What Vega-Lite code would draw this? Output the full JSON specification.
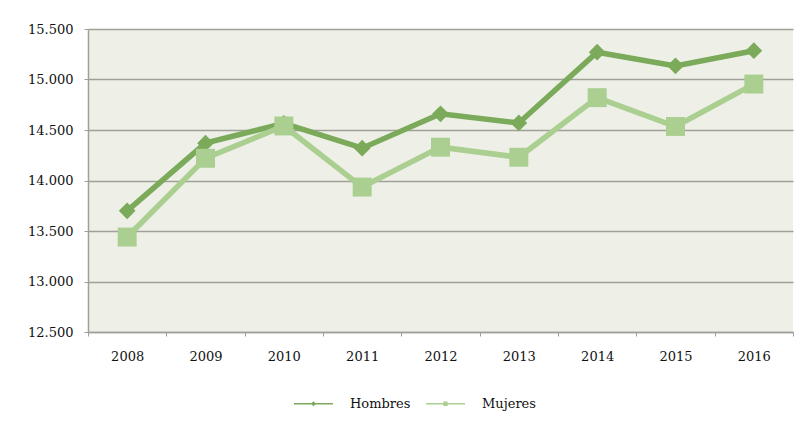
{
  "$schema": "https://vega.github.io/schema/vega-lite/v6.json",
  "width": 705,
  "height": 303,
  "autosize": {"type": "none"},
  "padding": {"left": 88, "top": 29, "right": 10, "bottom": 91},
  "background": "#ffffff",
  "data": {
    "values": [
      {"anio": "2008", "serie": "Hombres", "valor": 13700},
      {"anio": "2009", "serie": "Hombres", "valor": 14370},
      {"anio": "2010", "serie": "Hombres", "valor": 14565},
      {"anio": "2011", "serie": "Hombres", "valor": 14320},
      {"anio": "2012", "serie": "Hombres", "valor": 14660},
      {"anio": "2013", "serie": "Hombres", "valor": 14570},
      {"anio": "2014", "serie": "Hombres", "valor": 15270},
      {"anio": "2015", "serie": "Hombres", "valor": 15135},
      {"anio": "2016", "serie": "Hombres", "valor": 15285},
      {"anio": "2008", "serie": "Mujeres", "valor": 13440},
      {"anio": "2009", "serie": "Mujeres", "valor": 14220},
      {"anio": "2010", "serie": "Mujeres", "valor": 14540},
      {"anio": "2011", "serie": "Mujeres", "valor": 13935},
      {"anio": "2012", "serie": "Mujeres", "valor": 14330},
      {"anio": "2013", "serie": "Mujeres", "valor": 14230},
      {"anio": "2014", "serie": "Mujeres", "valor": 14820},
      {"anio": "2015", "serie": "Mujeres", "valor": 14535},
      {"anio": "2016", "serie": "Mujeres", "valor": 14955}
    ]
  },
  "encoding": {
    "x": {
      "field": "anio",
      "type": "ordinal",
      "scale": {"paddingInner": 0, "paddingOuter": 0},
      "axis": {
        "title": null,
        "labelAngle": 0,
        "tickBand": "extent",
        "tickSize": 4,
        "tickColor": "#a0a09a",
        "domainColor": "#a0a09a",
        "domainWidth": 1.5,
        "labelPadding": 14,
        "grid": false
      }
    },
    "y": {
      "field": "valor",
      "type": "quantitative",
      "scale": {"domain": [12500, 15500], "zero": false},
      "axis": {
        "title": null,
        "values": [12500, 13000, 13500, 14000, 14500, 15000, 15500],
        "format": ",d",
        "tickSize": 4,
        "tickColor": "#a0a09a",
        "domainColor": "#a0a09a",
        "domainWidth": 1.5,
        "labelPadding": 11,
        "grid": true,
        "gridColor": "#a09f98",
        "gridWidth": 1.5
      }
    }
  },
  "layer": [
    {
      "mark": {"type": "line", "strokeWidth": 5.5},
      "encoding": {
        "color": {
          "field": "serie",
          "type": "nominal",
          "scale": {"domain": ["Hombres", "Mujeres"], "range": ["#7aaa5a", "#aacf90"]},
          "legend": null
        }
      }
    },
    {
      "transform": [{"filter": "datum.serie === 'Hombres'"}],
      "mark": {"type": "point", "shape": "diamond", "filled": true, "size": 280, "opacity": 1},
      "encoding": {"color": {"field": "serie", "type": "nominal", "legend": null}}
    },
    {
      "transform": [{"filter": "datum.serie === 'Mujeres'"}],
      "mark": {"type": "point", "shape": "square", "filled": true, "size": 360, "opacity": 1},
      "encoding": {"color": {"field": "serie", "type": "nominal", "legend": null}}
    },
    {
      "mark": {"type": "point", "filled": true, "opacity": 0},
      "encoding": {
        "color": {
          "field": "serie",
          "type": "nominal",
          "legend": {
            "orient": "none",
            "legendX": 205,
            "legendY": 354,
            "direction": "horizontal",
            "title": null,
            "symbolOpacity": 1,
            "symbolSize": 1521,
            "labelOffset": 16,
            "columnPadding": 12,
            "labelFont": "DejaVu Serif",
            "labelFontSize": 13,
            "labelColor": "#111111"
          }
        },
        "shape": {
          "field": "serie",
          "type": "nominal",
          "scale": {
            "domain": ["Hombres", "Mujeres"],
            "range": [
              "M-1,-0.04H1V0.04H-1Z M0,-0.13L0.13,0L0,0.13L-0.13,0Z",
              "M-1,-0.04H1V0.04H-1Z M-0.11,-0.11H0.11V0.11H-0.11Z"
            ]
          },
          "legend": {
            "orient": "none",
            "legendX": 205,
            "legendY": 354,
            "direction": "horizontal",
            "title": null,
            "symbolOpacity": 1,
            "symbolSize": 1521,
            "labelOffset": 16,
            "columnPadding": 12,
            "labelFont": "DejaVu Serif",
            "labelFontSize": 13,
            "labelColor": "#111111"
          }
        }
      }
    }
  ],
  "resolve": {"legend": {"color": "independent", "shape": "independent"}},
  "config": {
    "locale": {
      "number": {"decimal": ",", "thousands": ".", "grouping": [3], "currency": ["", " €"]}
    },
    "view": {"fill": "#eef0e8", "stroke": null},
    "axis": {
      "labelFont": "DejaVu Serif",
      "labelFontSize": 13,
      "labelColor": "#111111"
    }
  }
}
